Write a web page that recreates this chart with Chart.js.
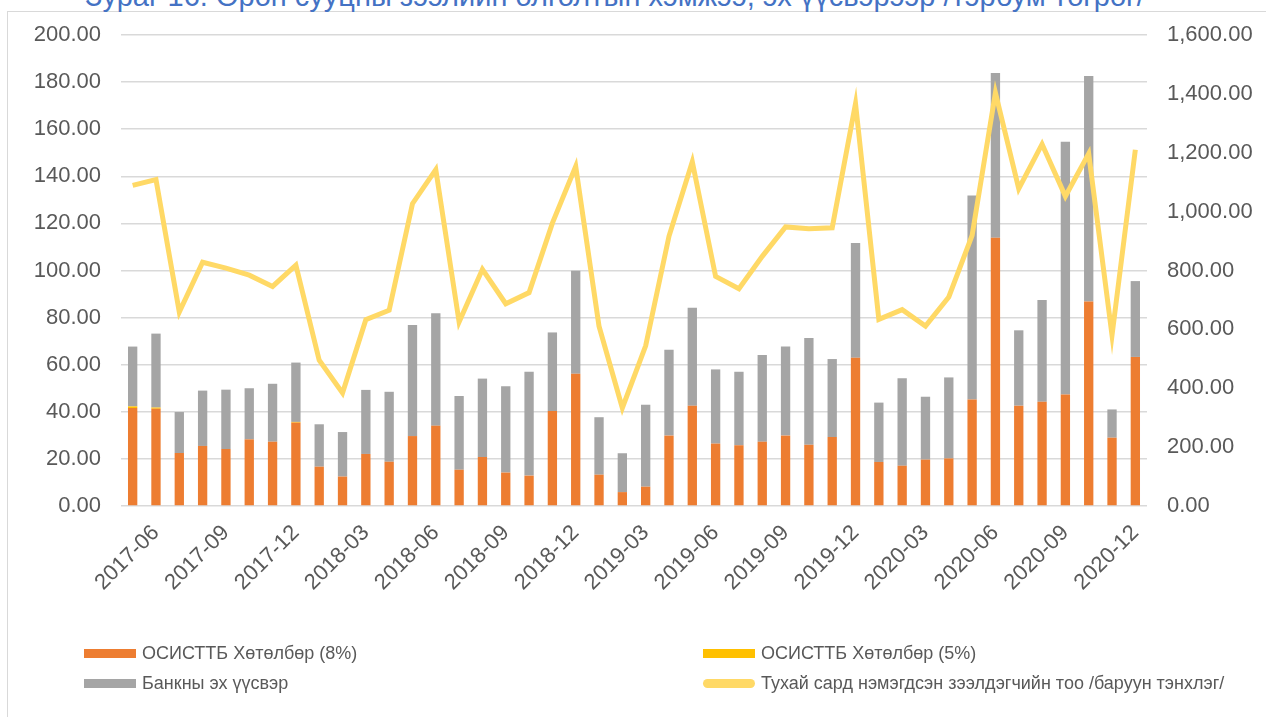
<!DOCTYPE html>
<html>
<head>
<meta charset="utf-8">
<script src="https://cdn.jsdelivr.net/npm/chart.js@4.4.0/dist/chart.umd.min.js"></script>
<style>
  body { margin: 0; background: #fff; font-family: "Liberation Sans", Arial, sans-serif; }
  #wrap { position: relative; width: 1266px; height: 717px; overflow: hidden; }
  #box { position: absolute; left: 7px; top: 11px; width: 1300px; height: 760px; border: 1.5px solid #d9d9d9; box-sizing: border-box; }
  #title { position: absolute; left: 85px; top: -18px; font-size: 29px; line-height: 1; color: #4472c4; white-space: nowrap; }
  #chart1 { position: absolute; left: 0; top: 0; }
  #legend { position: absolute; left: 84px; top: 643px; display: grid; grid-template-columns: 619px 540px; row-gap: 10px; }
  .item { display: flex; align-items: center; height: 20px; font-size: 18px; color: #595959; }
  .sw { width: 52px; height: 9px; margin-right: 6px; }
</style>
</head>
<body>
<div id="wrap">
  <div id="box"></div>
  <div id="title">Зураг 16. Орон сууцны зээлийн олголтын хэмжээ, эх үүсвэрээр /тэрбум төгрөг/</div>
  <canvas id="chart1" width="1266" height="717"></canvas>
  <div id="legend"></div>
</div>
<script>
var months = [
  "2017-05", "2017-06", "2017-07", "2017-08", "2017-09", "2017-10", "2017-11", "2017-12",
  "2018-01", "2018-02", "2018-03", "2018-04", "2018-05", "2018-06", "2018-07", "2018-08",
  "2018-09", "2018-10", "2018-11", "2018-12", "2019-01", "2019-02", "2019-03", "2019-04",
  "2019-05", "2019-06", "2019-07", "2019-08", "2019-09", "2019-10", "2019-11", "2019-12",
  "2020-01", "2020-02", "2020-03", "2020-04", "2020-05", "2020-06", "2020-07", "2020-08",
  "2020-09", "2020-10", "2020-11", "2020-12"
];

// ОСИСТТБ Хөтөлбөр (8%)
var program8 = [
  41.6, 41.3, 22.5, 25.5, 24.2, 28.3, 27.3, 35.4, 16.7, 12.5,
  22.1, 18.8, 29.7, 34.1, 15.4, 20.8, 14.2, 12.9, 40.3, 56.2,
  13.3, 5.9, 8.2, 29.9, 42.6, 26.5, 25.8, 27.3, 29.9, 26.0,
  29.3, 63.0, 18.7, 17.1, 19.7, 20.2, 45.2, 113.9, 42.6, 44.3,
  47.3, 86.8, 29.0, 63.3
];

// ОСИСТТБ Хөтөлбөр (5%)
var program5 = [
  0.7, 0.5, 0, 0, 0, 0, 0, 0.3, 0, 0,
  0, 0, 0, 0, 0, 0, 0, 0, 0, 0,
  0, 0, 0, 0, 0, 0, 0, 0, 0, 0,
  0, 0, 0, 0, 0, 0, 0, 0, 0, 0,
  0, 0, 0, 0
];

// Банкны эх үүсвэр
var bankSource = [
  25.4, 31.4, 17.4, 23.5, 25.2, 21.7, 24.6, 25.2, 18.0, 18.9,
  27.2, 29.7, 47.2, 47.7, 31.3, 33.3, 36.6, 44.1, 33.4, 43.7,
  24.4, 16.5, 34.8, 36.5, 41.6, 31.5, 31.2, 36.8, 37.8, 45.3,
  33.1, 48.7, 25.2, 37.1, 26.7, 34.4, 86.7, 70.0, 32.0, 43.2,
  107.4, 95.8, 12.0, 32.2
];

// Тухай сард нэмэгдсэн зээлдэгчийн тоо (right axis)
var newBorrowers = [
  1089, 1109, 659, 828, 808, 784, 746, 818, 495, 384,
  633, 665, 1027, 1143, 625, 804, 687, 725, 961, 1154,
  611, 333, 544, 916, 1169, 780, 738, 848, 948, 942,
  945, 1367, 634, 667, 611, 710, 919, 1404, 1078, 1229,
  1052, 1197, 580, 1210
];

var shownMonths = [
  "2017-06", "2017-09", "2017-12", "2018-03", "2018-06", "2018-09", "2018-12",
  "2019-03", "2019-06", "2019-09", "2019-12", "2020-03", "2020-06", "2020-09", "2020-12"
];

var tickFont = { family: "'Liberation Sans', Arial, sans-serif", size: 22 };
var fmt = function (v) {
  return Number(v).toLocaleString("en-US", { minimumFractionDigits: 2, maximumFractionDigits: 2 });
};

var ctx = document.getElementById("chart1").getContext("2d");
var myChart = new Chart(ctx, {
  type: "bar",
  data: {
    labels: months,
    datasets: [
      {
        label: "ОСИСТТБ Хөтөлбөр (8%)",
        data: program8,
        backgroundColor: "#ed7d31",
        yAxisID: "y",
        stack: "s",
        order: 1,
      },
      {
        label: "ОСИСТТБ Хөтөлбөр (5%)",
        data: program5,
        backgroundColor: "#ffc000",
        yAxisID: "y",
        stack: "s",
        order: 1,
      },
      {
        label: "Банкны эх үүсвэр",
        data: bankSource,
        backgroundColor: "#a5a5a5",
        yAxisID: "y",
        stack: "s",
        order: 1,
      },
      {
        type: "line",
        label: "Тухай сард нэмэгдсэн зээлдэгчийн тоо /баруун тэнхлэг/",
        data: newBorrowers,
        borderColor: "#ffd966",
        backgroundColor: "#ffd966",
        borderWidth: 5,
        pointRadius: 0,
        tension: 0,
        yAxisID: "y2",
        order: 0,
      },
    ],
  },
  options: {
    responsive: false,
    animation: false,
    layout: { padding: { top: 35, left: 0, right: 0, bottom: 0 } },
    datasets: { bar: { categoryPercentage: 1, barPercentage: 0.4 } },
    plugins: { legend: { display: false }, tooltip: { enabled: false } },
    scales: {
      x: {
        stacked: true,
        grid: { display: false },
        border: { display: false },
        ticks: {
          autoSkip: false,
          minRotation: 45,
          maxRotation: 45,
          padding: 6,
          color: "#595959",
          font: tickFont,
          callback: function (v, i) {
            var m = months[i];
            return shownMonths.indexOf(m) >= 0 ? m : "";
          },
        },
        afterFit: function (scale) { scale.height = 211; },
      },
      y: {
        stacked: true,
        position: "left",
        min: 0,
        max: 200,
        grid: { color: "#d9d9d9", lineWidth: 1.5, drawTicks: false },
        border: { display: false },
        ticks: { stepSize: 20, padding: 20, color: "#595959", font: tickFont, callback: fmt },
        afterFit: function (scale) { scale.width = 121; },
      },
      y2: {
        position: "right",
        min: 0,
        max: 1600,
        grid: { display: false, drawTicks: false },
        border: { display: false },
        ticks: { stepSize: 200, padding: 20, color: "#595959", font: tickFont, callback: fmt },
        afterFit: function (scale) { scale.width = 119; },
      },
    },
  },
});

// legend in two columns, built from the chart's datasets
var legendBox = document.getElementById("legend");
myChart.data.datasets.forEach(function (ds) {
  var item = document.createElement("div");
  item.className = "item";
  var sw = document.createElement("span");
  sw.className = "sw";
  sw.style.background = ds.type === "line" ? ds.borderColor : ds.backgroundColor;
  if (ds.type === "line") { sw.style.borderRadius = "5px"; }
  var txt = document.createElement("span");
  txt.textContent = ds.label;
  item.appendChild(sw);
  item.appendChild(txt);
  legendBox.appendChild(item);
});
</script>
</body>
</html>
